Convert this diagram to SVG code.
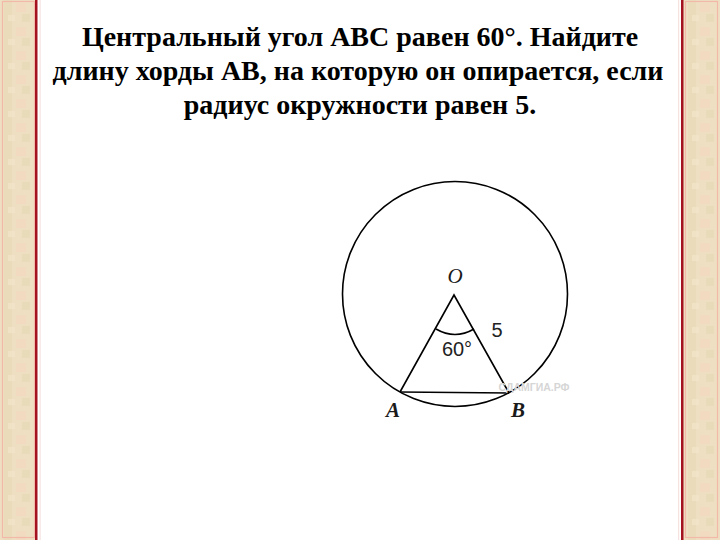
<svg xmlns="http://www.w3.org/2000/svg" width="720" height="540" viewBox="0 0 720 540">
<defs>
<pattern id="parch" width="36" height="24" patternUnits="userSpaceOnUse">
<rect width="36" height="24" fill="#eedfc2"/>
<rect x="4" y="0" width="8" height="24" fill="#e9dbb8" opacity="0.7"/>
<rect x="16" y="3" width="10" height="9" fill="#f3d9c0" opacity="0.7"/>
<rect x="22" y="14" width="8" height="8" fill="#e6dab6" opacity="0.7"/>
<rect x="8" y="15" width="7" height="6" fill="#f1e4c8" opacity="0.8"/>
</pattern>
<style>
.title{font-family:"Liberation Serif","Times New Roman",serif;font-weight:bold;font-size:28px;fill:#000;text-anchor:middle}
.geo{fill:none;stroke:#000;stroke-width:1.6}
.pt{font-family:"Liberation Serif","Times New Roman",serif;font-style:italic;font-size:21px;fill:#1a1a1a;text-anchor:middle}
.num{font-family:"Liberation Sans",Arial,sans-serif;font-size:20px;fill:#222;text-anchor:middle}
</style>
</defs>
<rect width="720" height="540" fill="#ffffff"/>
<g id="border-left">
<rect x="0" y="0" width="36" height="540" fill="url(#parch)"/>
<rect x="2.5" y="1.5" width="32" height="536" fill="none" stroke="#f2b9a8" stroke-width="1.2"/>
<rect x="35" y="0" width="2.5" height="540" fill="#a3121e"/>
<rect x="39.5" y="0" width="1.2" height="540" fill="#f7e2e2"/>
</g>
<g id="border-right">
<rect x="683" y="0" width="37" height="540" fill="url(#parch)"/>
<rect x="685.5" y="1.5" width="32" height="536" fill="none" stroke="#f2b9a8" stroke-width="1.2"/>
<rect x="681" y="0" width="2.5" height="540" fill="#a3121e"/>
<rect x="678" y="0" width="1.2" height="540" fill="#f7e2e2"/>
</g>
<g id="title">
<text class="title" x="360" y="46">Центральный угол АВС равен 60°. Найдите</text>
<text class="title" x="358" y="80">длину хорды АВ, на которую он опирается, если</text>
<text class="title" x="360" y="114">радиус окружности равен 5.</text>
</g>
<g id="connectors">
<circle class="geo" cx="455" cy="294" r="112.5"/>
<polyline class="geo" points="400,392 454,295 509,393"/>
<line class="geo" x1="400" y1="392" x2="509" y2="393" stroke-width="1.3"/>
<path class="geo" d="M 436,329 Q 455,340 474,329" stroke-width="1.4"/>
</g>
<g id="node-O"><text class="pt" x="455" y="283">O</text></g>
<g id="node-A"><text class="pt" x="393" y="417" font-weight="bold">A</text></g>
<g id="node-B"><text class="pt" x="518" y="417" font-weight="bold">B</text></g>
<g id="label-5"><text class="num" x="497" y="337">5</text></g>
<g id="label-60"><text class="num" x="457" y="356">60°</text></g>
<g id="watermark"><text x="534" y="391" font-family="Liberation Sans,Arial,sans-serif" font-size="10.5" font-weight="bold" fill="#d6d6d6" text-anchor="middle">СДАМГИА.РФ</text></g>
</svg>
